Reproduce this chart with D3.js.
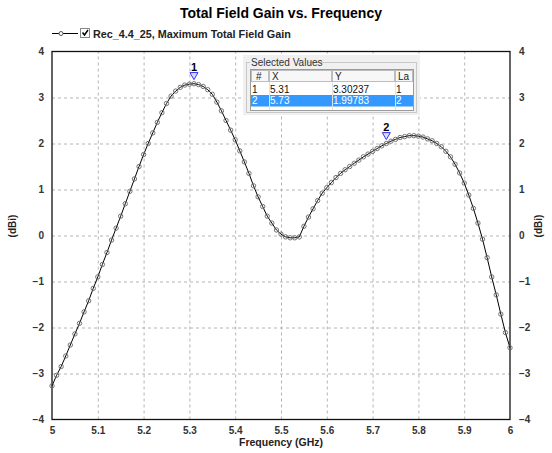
<!DOCTYPE html>
<html>
<head>
<meta charset="utf-8">
<script src="https://cdn.jsdelivr.net/npm/d3@7"></script>
<style>
  body { margin: 0; background: #fff; }
  text { font-family: Arial, 'Liberation Sans', sans-serif; }
</style>
</head>
<body>
<svg id="chart"></svg>
<script>
var freqGHz = [
  5.00, 5.01, 5.02, 5.03, 5.04, 5.05, 5.06, 5.07, 5.08, 5.09,
  5.10, 5.11, 5.12, 5.13, 5.14, 5.15, 5.16, 5.17, 5.18, 5.19,
  5.20, 5.21, 5.22, 5.23, 5.24, 5.25, 5.26, 5.27, 5.28, 5.29,
  5.30, 5.31, 5.32, 5.33, 5.34, 5.35, 5.36, 5.37, 5.38, 5.39,
  5.40, 5.41, 5.42, 5.43, 5.44, 5.45, 5.46, 5.47, 5.48, 5.49,
  5.50, 5.51, 5.52, 5.53, 5.54, 5.55, 5.56, 5.57, 5.58, 5.59,
  5.60, 5.61, 5.62, 5.63, 5.64, 5.65, 5.66, 5.67, 5.68, 5.69,
  5.70, 5.71, 5.72, 5.73, 5.74, 5.75, 5.76, 5.77, 5.78, 5.79,
  5.80, 5.81, 5.82, 5.83, 5.84, 5.85, 5.86, 5.87, 5.88, 5.89,
  5.90, 5.91, 5.92, 5.93, 5.94, 5.95, 5.96, 5.97, 5.98, 5.99,
  6.00
];
var gainDBi = [
  -3.27, -3.04, -2.85, -2.62, -2.38, -2.14, -1.91, -1.66, -1.42, -1.15,
  -0.90, -0.63, -0.37, -0.10,  0.16,  0.42,  0.69,  0.96,  1.23,  1.50,
   1.76,  2.00,  2.23,  2.46,  2.67,  2.87,  3.03,  3.14,  3.22,  3.27,
   3.29,  3.30,  3.28,  3.24,  3.17,  3.07,  2.90,  2.71,  2.50,  2.29,
   2.08,  1.84,  1.60,  1.35,  1.08,  0.84,  0.63,  0.42,  0.27,  0.12,
   0.03, -0.03, -0.05, -0.05, -0.03,  0.20,  0.40,  0.58,  0.76,  0.92,
   1.04,  1.15,  1.26,  1.35,  1.43,  1.50,  1.57,  1.64,  1.71,  1.77,
   1.83,  1.89,  1.95,  2.00,  2.05,  2.09,  2.13,  2.15,  2.17,  2.17,
   2.16,  2.14,  2.10,  2.06,  2.00,  1.93,  1.83,  1.71,  1.55,  1.36,
   1.14,  0.88,  0.59,  0.27, -0.08, -0.48, -0.90, -1.29, -1.71, -2.11,
  -2.44
];
var xTicks = [5, 5.1, 5.2, 5.3, 5.4, 5.5, 5.6, 5.7, 5.8, 5.9, 6];
var xTickLabels = ['5', '5.1', '5.2', '5.3', '5.4', '5.5', '5.6', '5.7', '5.8', '5.9', '6'];
var yTicks = [-4, -3, -2, -1, 0, 1, 2, 3, 4];
var markerNames = ['1', '2'];
var markerFreq = [5.31, 5.73];
var markerGain = [3.30237, 1.99783];
var tableHeaders = ['#', 'X', 'Y', 'La'];
var tableRows = [['1', '5.31', '3.30237', '1'], ['2', '5.73', '1.99783', '2']];

var width = 552, height = 453;
var plotL = 52, plotR = 510, plotT = 51.5, plotB = 419.5;
var fontFam = 'Arial, Liberation Sans, sans-serif';

var svg = d3.select('#chart')
  .attr('width', width)
  .attr('height', height);

var data = freqGHz.map((f, i) => ({x: f, y: gainDBi[i]}));

var xScale = d3.scaleLinear().domain([5, 6]).range([plotL, plotR]);
var yScale = d3.scaleLinear().domain([-4, 4]).range([plotB, plotT]);

// grid
var xGrid = d3.axisBottom(xScale)
  .tickValues(xTicks.slice(1, -1))
  .tickSize(-(plotB - plotT))
  .tickFormat('');
var yGrid = d3.axisLeft(yScale)
  .tickValues(yTicks.slice(1, -1))
  .tickSize(-(plotR - plotL))
  .tickFormat('');

svg.append('g')
  .attr('transform', 'translate(0,' + plotB + ')')
  .call(xGrid)
  .call(g => g.select('.domain').remove())
  .selectAll('line')
    .attr('stroke', '#b4b4b4')
    .attr('stroke-dasharray', '3,3');
svg.append('g')
  .attr('transform', 'translate(' + plotL + ',0)')
  .call(yGrid)
  .call(g => g.select('.domain').remove())
  .selectAll('line')
    .attr('stroke', '#b4b4b4')
    .attr('stroke-dasharray', '3,3');

// tick labels
function styleTicks(g){
  g.select('.domain').remove();
  g.selectAll('text')
    .attr('font-family', fontFam)
    .attr('font-size', 10)
    .attr('font-weight', 'bold')
    .attr('fill', '#333');
}
var xAxis = d3.axisBottom(xScale)
  .tickValues(xTicks)
  .tickSize(0)
  .tickPadding(7)
  .tickFormat((d, i) => xTickLabels[i]);
svg.append('g')
  .attr('transform', 'translate(0,' + plotB + ')')
  .call(xAxis)
  .call(styleTicks);

var yAxisL = d3.axisLeft(yScale).tickValues(yTicks).tickSize(0).tickPadding(8);
var yAxisR = d3.axisRight(yScale).tickValues(yTicks).tickSize(0).tickPadding(9);
svg.append('g')
  .attr('transform', 'translate(' + plotL + ',0)')
  .call(yAxisL)
  .call(styleTicks);
svg.append('g')
  .attr('transform', 'translate(' + plotR + ',0)')
  .call(yAxisR)
  .call(styleTicks);

// frame
svg.append('rect')
  .attr('x', plotL)
  .attr('y', plotT)
  .attr('width', plotR - plotL)
  .attr('height', plotB - plotT)
  .attr('fill', 'none')
  .attr('stroke', '#111')
  .attr('stroke-width', 1.3);

// titles
svg.append('text')
  .attr('x', 281)
  .attr('y', 18)
  .attr('text-anchor', 'middle')
  .attr('font-size', 14)
  .attr('font-weight', 'bold')
  .text('Total Field Gain vs. Frequency');
svg.append('text')
  .attr('x', 281)
  .attr('y', 446)
  .attr('text-anchor', 'middle')
  .attr('font-size', 10.5)
  .attr('font-weight', 'bold')
  .attr('fill', '#222')
  .text('Frequency (GHz)');
[16, 542].forEach(x => {
  svg.append('text')
    .attr('transform', 'translate(' + x + ',226) rotate(-90)')
    .attr('text-anchor', 'middle')
    .attr('font-size', 10)
    .attr('font-weight', 'bold')
    .attr('fill', '#222')
    .text('(dBi)');
});

// legend
var legend = svg.append('g');
legend.append('line')
  .attr('x1', 52).attr('x2', 78)
  .attr('y1', 33.5).attr('y2', 33.5)
  .attr('stroke', '#000');
legend.append('circle')
  .attr('cx', 61).attr('cy', 33.5).attr('r', 2)
  .attr('fill', '#fff')
  .attr('stroke', '#555');
legend.append('rect')
  .attr('x', 80.5).attr('y', 28.5)
  .attr('width', 9).attr('height', 9)
  .attr('fill', '#fff')
  .attr('stroke', '#888');
legend.append('path')
  .attr('d', 'M82.5,32.5 L84.5,35 L88,30')
  .attr('fill', 'none')
  .attr('stroke', '#000')
  .attr('stroke-width', 1.5);
legend.append('text')
  .attr('x', 93)
  .attr('y', 37.5)
  .attr('font-size', 10.8)
  .attr('font-weight', 'bold')
  .attr('fill', '#222')
  .text('Rec_4.4_25, Maximum Total Field Gain');

// curve
var line = d3.line()
  .x(d => xScale(d.x))
  .y(d => yScale(d.y));
svg.append('path')
  .datum(data)
  .attr('d', line)
  .attr('fill', 'none')
  .attr('stroke', '#000')
  .attr('stroke-width', 1);
svg.selectAll('circle.pt')
  .data(data)
  .enter()
  .append('circle')
    .attr('class', 'pt')
    .attr('cx', d => xScale(d.x))
    .attr('cy', d => yScale(d.y))
    .attr('r', 2.2)
    .attr('fill', 'none')
    .attr('stroke', '#666')
    .attr('stroke-width', 0.9);

// marker triangles
markerNames.forEach((name, i) => {
  var mx = xScale(markerFreq[i]), my = yScale(markerGain[i]);
  svg.append('path')
    .attr('d', 'M' + (mx - 4) + ',' + (my - 11) + ' L' + (mx + 4) + ',' + (my - 11) + ' L' + mx + ',' + (my - 4) + ' Z')
    .attr('fill', '#dcdcff')
    .attr('stroke', '#3030ff')
    .attr('stroke-width', 1);
  svg.append('text')
    .attr('x', mx)
    .attr('y', my - 13)
    .attr('text-anchor', 'middle')
    .attr('font-size', 11)
    .attr('font-weight', 'bold')
    .text(name);
});

// selected values panel
var panel = svg.append('g');
panel.append('rect')
  .attr('x', 243).attr('y', 55)
  .attr('width', 177).attr('height', 60)
  .attr('fill', '#f0f0f0');
panel.append('rect')
  .attr('x', 246.5).attr('y', 62.5)
  .attr('width', 170).attr('height', 50)
  .attr('fill', 'none')
  .attr('stroke', '#c8c8c8');
panel.append('rect')
  .attr('x', 250).attr('y', 58)
  .attr('width', 58).attr('height', 9)
  .attr('fill', '#f0f0f0');
panel.append('text')
  .attr('x', 251)
  .attr('y', 66)
  .attr('font-size', 10)
  .attr('fill', '#333')
  .text('Selected Values');

var colX = [251, 269, 332, 395];
var colW = [18, 63, 63, 19];
panel.append('rect')
  .attr('x', 250.5).attr('y', 69.5)
  .attr('width', 163).attr('height', 41)
  .attr('fill', '#fff')
  .attr('stroke', '#9a9a9a');
tableHeaders.forEach((h, i) => {
  panel.append('rect')
    .attr('x', colX[i] + 0.5).attr('y', 70.5)
    .attr('width', Math.min(colW[i], 413 - colX[i]) - 1).attr('height', 11)
    .attr('fill', '#f7f7f7')
    .attr('stroke', '#bdbdbd');
  panel.append('text')
    .attr('x', colX[i] + (i === 0 ? 5 : 3))
    .attr('y', 79.5)
    .attr('font-size', 10)
    .attr('fill', '#222')
    .text(h);
});
panel.append('rect')
  .attr('x', 251).attr('y', 95)
  .attr('width', 162).attr('height', 11.5)
  .attr('fill', '#3399ff');
colX.slice(1).forEach(x => {
  panel.append('line')
    .attr('x1', x + 0.5).attr('x2', x + 0.5)
    .attr('y1', 82).attr('y2', 110)
    .attr('stroke', '#e2e2e2');
});
tableRows.forEach((row, r) => {
  row.forEach((v, i) => {
    panel.append('text')
      .attr('x', colX[i] + 1)
      .attr('y', 92.5 + r * 11.5)
      .attr('font-size', 10)
      .attr('fill', r === 1 ? '#fff' : '#111')
      .text(v);
  });
});
</script>
</body>
</html>
